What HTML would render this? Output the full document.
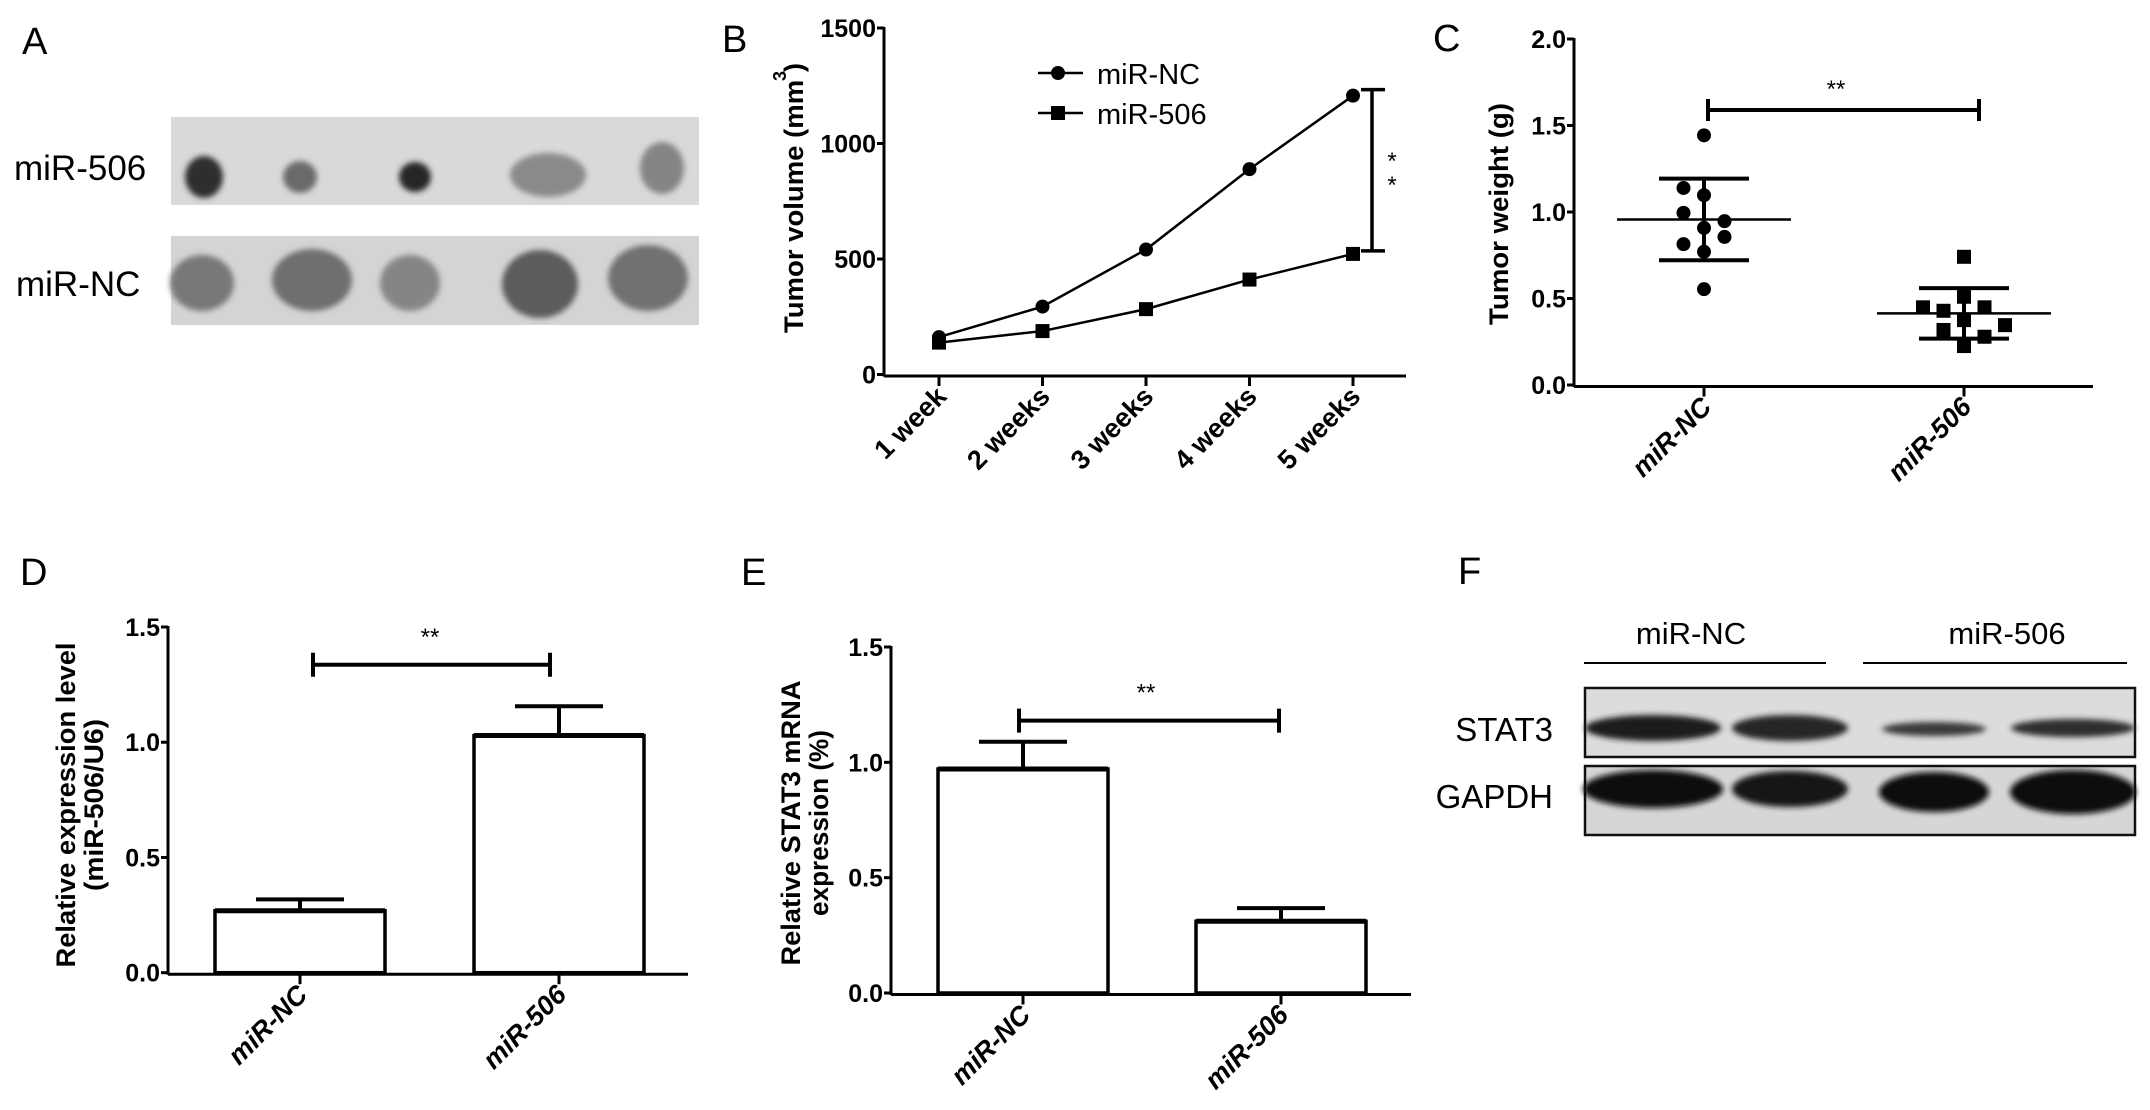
<!DOCTYPE html>
<html><head><meta charset="utf-8">
<style>
html,body{margin:0;padding:0;background:#fff;}
svg{display:block;}
text{font-family:"Liberation Sans",sans-serif;}
.tk{font-family:"Liberation Sans Narrow","Liberation Sans",sans-serif;font-weight:bold;font-size:25px;}
.ttl{font-weight:bold;font-size:27px;}
.xl{font-weight:bold;font-size:27px;}
.lab{font-size:38px;}
.nar{font-family:"Liberation Sans Narrow","Liberation Sans",sans-serif;}
</style></head>
<body>
<svg id="fig" width="2150" height="1110" viewBox="0 0 2150 1110" xmlns="http://www.w3.org/2000/svg">
<defs>
<filter id="blur1"><feGaussianBlur stdDeviation="3"/></filter>
<filter id="blur2"><feGaussianBlur stdDeviation="5"/></filter>
</defs>
<!-- Panel labels -->
<text x="22" y="54" class="lab">A</text>
<text x="722" y="52" class="lab">B</text>
<text x="1433" y="51" class="lab">C</text>
<text x="20" y="585" class="lab">D</text>
<text x="741" y="585" class="lab">E</text>
<text x="1458" y="584" class="lab">F</text>

<!-- Panel A photos -->
<g>
<rect x="171" y="117" width="528" height="88" fill="#d9d9d9"/>
<rect x="171" y="236" width="528" height="89" fill="#d4d4d4"/>
<g id="tumors" filter="url(#blur1)"></g>
<text x="14" y="180" font-size="35" class="nar">miR-506</text>
<text x="16" y="296" font-size="35" class="nar">miR-NC</text>
</g>

<g id="panelB"></g>
<g id="panelC"></g>
<g id="panelD"></g>
<g id="panelE"></g>

<!-- Panel F western blot -->
<g>
<text x="1691" y="644" font-size="31" text-anchor="middle" class="nar">miR-NC</text>
<text x="2007" y="644" font-size="31" text-anchor="middle" class="nar">miR-506</text>
<line x1="1584" y1="663" x2="1826" y2="663" stroke="#000" stroke-width="2"/>
<line x1="1863" y1="663" x2="2127" y2="663" stroke="#000" stroke-width="2"/>
<rect x="1585" y="688" width="550" height="69" fill="#dcdcdc" stroke="#111" stroke-width="2.5"/>
<rect x="1585" y="766" width="550" height="69" fill="#d6d6d6" stroke="#111" stroke-width="2.5"/>
<g id="bands" filter="url(#blur1)"></g>
<text x="1553" y="741" font-size="33" text-anchor="end" class="nar">STAT3</text>
<text x="1553" y="808" font-size="33" text-anchor="end" class="nar">GAPDH</text>
</g>
</svg>
<script>
const NS="http://www.w3.org/2000/svg";
function mk(parent,tag,attrs,txt){const e=document.createElementNS(NS,tag);for(const k in attrs)e.setAttribute(k,attrs[k]);if(txt!==undefined)e.textContent=txt;parent.appendChild(e);return e;}

// ---------- Panel B data ----------
const weekLabels=["1 week","2 weeks","3 weeks","4 weeks","5 weeks"];
const volumeNC=[162,294,541,889,1207];
const volume506=[138,188,283,411,522];
const volumeTicks=[0,500,1000,1500];
// ---------- Panel C data ----------
const weightNC=[1.443,1.139,1.097,0.995,0.947,0.908,0.856,0.814,0.770,0.554];
const weightNCjitter=[0,-1,0,-1,1,0,1,-1,0,0];
const weight506=[0.741,0.510,0.449,0.429,0.449,0.375,0.346,0.318,0.279,0.225];
const weight506jitter=[0,0,-2,-1,1,0,2,-1,1,0];
const weightMean=[0.957,0.414];
const weightSD=[0.236,0.146];
const weightTicks=[0,0.5,1.0,1.5,2.0];
const groups=["miR-NC","miR-506"];
// ---------- Panel D data ----------
const exprMean=[0.269,1.029];
const exprErr=[0.049,0.127];
const exprTicks=[0,0.5,1.0,1.5];
// ---------- Panel E data ----------
const stat3Mean=[0.971,0.311];
const stat3Err=[0.118,0.057];
const stat3Ticks=[0,0.5,1.0,1.5];

function fmt1(v){return v.toFixed(1);}

function yAxis(g,x,y0,y1,vmax,ticks,f,name){
  const sy=v=>y0-(v/vmax)*(y0-y1);
  const ax=mk(g,'line',{x1:x,y1:sy(vmax)-1,x2:x,y2:y0+2,stroke:'#000','stroke-width':3});
  
  
  ticks.forEach(t=>{
    const l=mk(g,'line',{x1:x-7,y1:sy(t),x2:x,y2:sy(t),stroke:'#000','stroke-width':3});
    
    
    const tx=mk(g,'text',{x:x-8,y:sy(t)+9,'text-anchor':'end','class':'tk'},f(t));
    
    
  });
  return sy;
}
function xAxis(g,x0,x1,y,positions,labels,name,italic){
  const ax=mk(g,'line',{x1:x0,y1:y,x2:x1,y2:y,stroke:'#000','stroke-width':3});
  
  
  positions.forEach((px,i)=>{
    const l=mk(g,'line',{x1:px,y1:y,x2:px,y2:y+10,stroke:'#000','stroke-width':3});
    
    
    const t=mk(g,'text',{x:0,y:0,'text-anchor':'end','class':'xl',transform:`translate(${px+9},${y+22}) rotate(-45)`},labels[i]);
    if(italic)t.setAttribute('font-style','italic');
    
    
  });
}
function yTitle(g,x,cy,lines,name,len){
  lines.forEach((s,i)=>{
    const t=mk(g,'text',{x:0,y:0,'text-anchor':'middle','class':'ttl',transform:`translate(${x+i*28},${cy}) rotate(-90)`},s);
    if(len&&len[i]){t.setAttribute('textLength',len[i]);t.setAttribute('lengthAdjust','spacingAndGlyphs');}
    
    
  });
}
function sigBracket(g,x0,x1,y,cap,sx,sy,name){
  const p=mk(g,'path',{d:`M${x0},${y-cap}V${y+cap}M${x0},${y}H${x1}M${x1},${y-cap}V${y+cap}`,stroke:'#000','stroke-width':4,fill:'none'});
  
  
  const t=mk(g,'text',{x:sx,y:sy,'text-anchor':'middle','font-size':24,'class':'nar'},'**');
  
  
}

// ---------- Panel B ----------
(function(){
  const g=document.getElementById('panelB');
  const X0=884,Y0=374.5,Y1=28,VMAX=1500;
  const sy=yAxis(g,X0,Y0,Y1,VMAX,volumeTicks,t=>String(t),'volume');
  const sx=i=>939+i*103.5;
  xAxis(g,X0,1406,Y0+1.5,weekLabels.map((_,i)=>sx(i)),weekLabels,'volume',false);
  yTitle(g,803,198,["Tumor volume (mm  )"],'volume',[270]);
  const sup=mk(g,'text',{x:0,y:0,'font-size':18,'font-weight':'bold',transform:'translate(786,81) rotate(-90)'},'3');
  
  
  const ln=(arr,nm)=>{const p=mk(g,'polyline',{points:arr.map((v,i)=>sx(i)+','+sy(v)).join(' '),fill:'none',stroke:'#000','stroke-width':2.5});
    
    };
  ln(volumeNC,'line-mirnc');ln(volume506,'line-mir506');
  volumeNC.forEach((v,i)=>{const c=mk(g,'circle',{cx:sx(i),cy:sy(v),r:7,fill:'#000'});
    
    });
  volume506.forEach((v,i)=>{const r=mk(g,'rect',{x:sx(i)-7,y:sy(v)-7,width:14,height:14,fill:'#000'});
    
    });
  // significance vertical bracket
  const bx=1372,ya=sy(volumeNC[4])-6,yb=sy(volume506[4])-3;
  const p=mk(g,'path',{d:`M1361,${ya}H1385M${bx},${ya}V${yb}M1361,${yb}H1385`,stroke:'#000','stroke-width':3.5,fill:'none'});
  
  
  const t1=mk(g,'text',{x:1392,y:169,'font-size':24,'text-anchor':'middle','class':'nar'},'*');
  
  
  const t2=mk(g,'text',{x:1392,y:193,'font-size':24,'text-anchor':'middle','class':'nar'},'*');
  
  
  // legend
  const l1=mk(g,'line',{x1:1038,y1:73,x2:1083,y2:73,stroke:'#000','stroke-width':2.5});
  
  
  const m1=mk(g,'circle',{cx:1058,cy:73,r:7,fill:'#000'});
  
  
  const lt1=mk(g,'text',{x:1097,y:84,'font-size':29,'class':'nar'},'miR-NC');
  
  
  const l2=mk(g,'line',{x1:1038,y1:113,x2:1083,y2:113,stroke:'#000','stroke-width':2.5});
  
  
  const m2=mk(g,'rect',{x:1051,y:106,width:14,height:14,fill:'#000'});
  
  
  const lt2=mk(g,'text',{x:1097,y:124,'font-size':29,'class':'nar'},'miR-506');
  
  
})();

// ---------- Panel C ----------
(function(){
  const g=document.getElementById('panelC');
  const X0=1574,Y0=385,Y1=39,VMAX=2.0;
  const sy=yAxis(g,X0,Y0,Y1,VMAX,weightTicks,fmt1,'weight');
  const cx=[1704,1964];
  xAxis(g,X0,2093,Y0+1.5,cx,groups,'weight',true);
  yTitle(g,1508,214,["Tumor weight (g)"],'weight',[222]);
  weightNC.forEach((v,i)=>{const c=mk(g,'circle',{cx:cx[0]+weightNCjitter[i]*20.5,cy:sy(v),r:7,fill:'#000'});
    
    });
  weight506.forEach((v,i)=>{const r=mk(g,'rect',{x:cx[1]+weight506jitter[i]*20.5-7,y:sy(v)-7,width:14,height:14,fill:'#000'});
    
    });
  weightMean.forEach((m,i)=>{
    const ml=mk(g,'line',{x1:cx[i]-87,y1:sy(m),x2:cx[i]+87,y2:sy(m),stroke:'#000','stroke-width':2.5});
    
    
    const hi=sy(m+weightSD[i]),lo=sy(m-weightSD[i]);
    const sd=mk(g,'path',{d:`M${cx[i]-45},${hi}H${cx[i]+45}M${cx[i]},${hi}V${lo}M${cx[i]-45},${lo}H${cx[i]+45}`,stroke:'#000','stroke-width':4,fill:'none'});
    
    
  });
  sigBracket(g,1708,1979,110,11,1836,97,'weight');
})();

// ---------- bar panels ----------
function barPanel(id,name,X0,Y0,Y1,Xend,cx,means,errs,ticks,titles,tx,ty,tlen,br){
  const g=document.getElementById(id);
  const sy=yAxis(g,X0,Y0,Y1,1.5,ticks,fmt1,name);
  xAxis(g,X0,Xend,Y0+1.5,cx,groups,name,true);
  yTitle(g,tx,ty,titles,name,tlen);
  means.forEach((m,i)=>{
    const r=mk(g,'rect',{x:cx[i]-85,y:sy(m),width:170,height:Y0-sy(m),fill:'#fff',stroke:'#000','stroke-width':3.5});
    
    
    const top=mk(g,'line',{x1:cx[i]-85,y1:sy(m),x2:cx[i]+85,y2:sy(m),stroke:'#000','stroke-width':5});
    
    
    const e=sy(m+errs[i]);
    const eb=mk(g,'path',{d:`M${cx[i]},${sy(m)}V${e}M${cx[i]-44},${e}H${cx[i]+44}`,stroke:'#000','stroke-width':4,fill:'none'});
    
    
  });
  sigBracket(g,br[0],br[1],sy(br[2]),12,br[3],sy(br[2])-20,name);
}
barPanel('panelD','expression',168,972.7,627,688,[300,559],exprMean,exprErr,exprTicks,
  ["Relative expression level","(miR-506/U6)"],75,805,[325,172],[313,550,1.336,430]);
barPanel('panelE','stat3',891,993,647,1411,[1023,1281],stat3Mean,stat3Err,stat3Ticks,
  ["Relative STAT3 mRNA","expression (%)"],800,823,[285,186],[1019,1279,1.181,1146]);

// ---------- tumors (panel A) ----------
const tumors=[[204,177,19,21,'#2e2e2e'],[300,177,17,16,'#6a6a6a'],[415,177,16,15,'#252525'],[548,175,38,22,'#8a8a8a'],[662,168,22,26,'#858585'],
[202,283,32,28,'#787878'],[312,280,40,31,'#6e6e6e'],[410,283,30,28,'#858585'],[540,284,38,34,'#5c5c5c'],[648,278,40,33,'#717171']];
const tg=document.getElementById('tumors');
tumors.forEach(t=>{const e=mk(tg,'ellipse',{cx:t[0],cy:t[1],rx:t[2],ry:t[3],fill:t[4]});
  
  });

// ---------- blot bands ----------
const bands=[[1653,728,68,13,'#1a1a1a'],[1790,728,58,13,'#262626'],[1934,729,52,7,'#3a3a3a'],[2073,728,62,9,'#2e2e2e'],
[1653,789,70,19,'#0d0d0d'],[1790,789,58,18,'#151515'],[1934,792,55,20,'#0a0a0a'],[2073,792,63,22,'#0a0a0a']];
const bg=document.getElementById('bands');
bands.forEach(b=>{const e=mk(bg,'ellipse',{cx:b[0],cy:b[1],rx:b[2],ry:b[3],fill:b[4]});
  
  });
</script>
</body></html>
